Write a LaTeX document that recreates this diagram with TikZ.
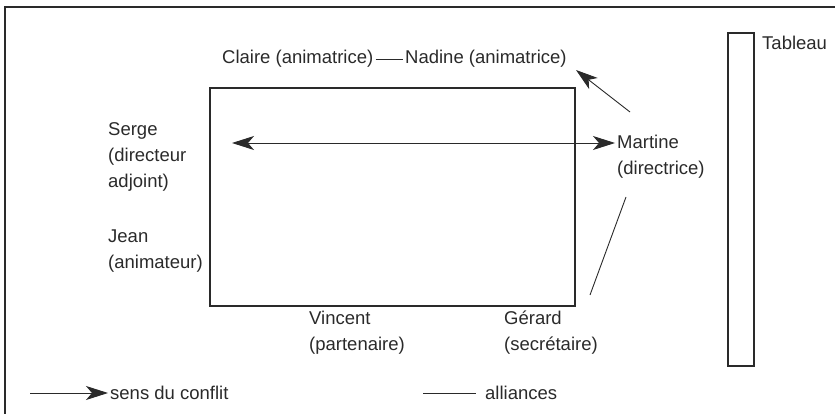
\documentclass[tikz,border=0pt]{standalone}
\usepackage{fontspec}
\setmainfont{Liberation Sans}
\usetikzlibrary{arrows.meta}
\definecolor{ink}{HTML}{2A2A2A}
\tikzset{
  lbl/.style={inner sep=0pt, anchor=west, align=left, text=ink, font=\fontsize{18.5}{26}\selectfont},
  conflict/.style={draw=ink, line width=0.9pt, -{Stealth[length=22pt,width=14pt,inset=6pt]}},
  bothconflict/.style={draw=ink, line width=0.9pt, {Stealth[length=22pt,width=14pt,inset=6pt]}-{Stealth[length=22pt,width=14pt,inset=6pt]}},
  alliance/.style={draw=ink, line width=0.9pt},
  frame/.style={draw=ink, line width=1.1pt}
}
\begin{document}
\begin{tikzpicture}[x=1pt,y=-1pt]
\useasboundingbox (0,0) rectangle (835,414);
% outer frame (cut by the picture edges)
\draw[frame] (5,414) -- (5,7) -- (835,7);
% table (room)
\draw[frame] (210,88) rectangle (575,306);
% tableau
\draw[frame] (728,33) rectangle (754,366);
\node[lbl] (tab) at (762,43) {Tableau};
% people
\node[lbl] (claire) at (222,59) {Claire (animatrice)};
\node[lbl] (nadine) at (405,59) {Nadine (animatrice)};
\node[lbl] (martine) at (617,157) {Martine\\(directrice)};
\node[lbl] (serge) at (108,157) {Serge\\(directeur\\adjoint)};
\node[lbl] (jean) at (108,251) {Jean\\(animateur)};
\node[lbl] (vincent) at (309,333) {Vincent\\(partenaire)};
\node[lbl] (gerard) at (504,333) {Gérard\\(secrétaire)};
% connector ends
\coordinate (cl) at (232,143);
\coordinate (mw) at (615,143);
\coordinate (mt) at (630,112);
\coordinate (nt) at (576,70);
\coordinate (mb) at (626,197);
\coordinate (gt) at (590,295);
% connectors
\draw[alliance] ([xshift=2pt]claire.east) -- ([xshift=-2pt]nadine.west);
\draw[bothconflict] (cl) -- (mw);
\draw[conflict] (mt) -- (nt);
\draw[alliance] (mb) -- (gt);
% legend
\coordinate (la) at (30,393);
\node[lbl] (lega) at (110,393) {sens du conflit};
\draw[conflict] (la) -- ([xshift=-2pt]lega.west);
\coordinate (lb) at (423,393);
\node[lbl] (legb) at (485,393) {alliances};
\draw[alliance] (lb) -- ([xshift=-9pt]legb.west);
\end{tikzpicture}
\end{document}
